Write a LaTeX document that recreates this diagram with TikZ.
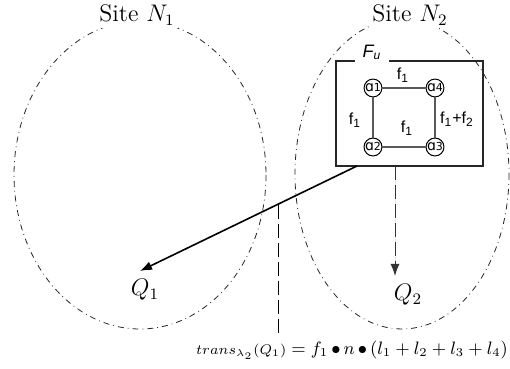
\documentclass[tikz,border=0pt]{standalone}
\usepackage{fontspec}
\newfontfamily\sansf{Liberation Sans}
\newfontfamily\dejavu{DejaVu Sans}
\usetikzlibrary{arrows.meta}
\begin{document}
\begin{tikzpicture}[x=0.5pt,y=-0.5pt,
  site/.style={draw=black!85, dash dot, line width=0.4pt},
  sitelabel/.style={fill=white, inner sep=1.5pt, font=\fontsize{12}{14}\selectfont},
  anode/.style={circle, draw, line width=0.5pt, minimum size=8.5pt, inner sep=0pt, font=\fontsize{7}{7}\dejavu},
  aedge/.style={draw=black!65, line width=0.6pt},
  elabel/.style={font=\fontsize{8}{9}\sansf},
  qlabel/.style={font=\fontsize{11.5}{13}\selectfont},
  dashln/.style={dash pattern=on 7pt off 2.5pt, line width=0.5pt},
  tip/.style={-{Latex[length=6pt,width=4.5pt]}}
]
\useasboundingbox (0,0) rectangle (510,369);
% sites
\draw[site] (140,175) ellipse [x radius=126, y radius=154];
\draw[site] (402,174) ellipse [x radius=107, y radius=155];
\node[sitelabel] (n1) at (137,15) {Site $N_1$};
\node[sitelabel] (n2) at (410,15) {Site $N_2$};
% F_u box
\node[draw=black!85, line width=0.6pt, minimum width=73.5pt, minimum height=52.5pt, inner sep=0pt] (fubox) at (409.5,113.5) {};
\node[fill=white, anchor=base, inner xsep=4pt, inner ysep=1pt, font=\fontsize{9}{10}\sansf\itshape] (fu) at (372,58) {F\textsubscript{u}};
% a nodes
\node[anode] (a1) at (373,88) {ɑ{\fontsize{5.5}{5}\selectfont 1}};
\node[anode] (a4) at (435,88) {ɑ{\fontsize{5.5}{5}\selectfont 4}};
\node[anode] (a2) at (373,147) {ɑ{\fontsize{5.5}{5}\selectfont 2}};
\node[anode] (a3) at (435,147) {ɑ{\fontsize{5.5}{5}\selectfont 3}};
\draw[aedge] (a1) -- (a4);
\draw[aedge] (a1) -- (a2);
\draw[aedge] (a2) -- (a3);
\draw[aedge] (a4) -- (a3);
\node[elabel] (l14) at (403,75) {f\textsubscript{1}};
\node[elabel] (l12) at (355,120) {f\textsubscript{1}};
\node[elabel] (lmid) at (407,128) {f\textsubscript{1}};
\node[elabel] (l43) at (457,119) {f\textsubscript{1}+f\textsubscript{2}};
% Q labels
\node[qlabel] (q1) at (145,290) {$Q_1$};
\node[qlabel] (q2) at (408,295) {$Q_2$};
% arrows
\coordinate (s1) at (357,166);
\coordinate (t1) at (140,271);
\draw[tip, line width=0.8pt] (s1) -- (t1);
\coordinate (s2) at (395,166);
\coordinate (t2) at (395,276);
\draw[tip, dashln, draw=black!80, fill=black!80] (s2) -- (t2);
\coordinate (v1) at (278,205);
\coordinate (v2) at (278,334);
\draw[dashln] (v1) -- (v2);
% formula
\node[font=\fontsize{9}{11}\selectfont] (form) at (352,350) {$\mbox{\fontsize{7}{8}\selectfont$trans_{\lambda_2}(Q_1)$} = f_1\,{\bullet}\,n\,{\bullet}\,(l_1+l_2+l_3+l_4)$};
\end{tikzpicture}
\end{document}
